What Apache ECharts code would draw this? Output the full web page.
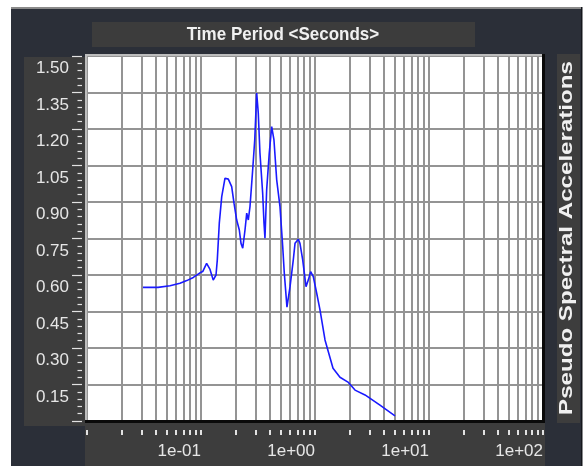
<!DOCTYPE html>
<html>
<head>
<meta charset="utf-8">
<script src="https://cdn.jsdelivr.net/npm/echarts@6/dist/echarts.min.js"></script>
<style>
  html, body { margin: 0; padding: 0; background: #ffffff; }
  #chart { width: 585px; height: 466px; }
</style>
</head>
<body>
<div id="chart"></div>
<script>
// Response spectrum: period (s) vs pseudo spectral acceleration
const periods = [
  0.031, 0.042, 0.0535, 0.0654, 0.075, 0.0856, 0.098, 0.1035, 0.112, 0.120,
  0.128, 0.1354, 0.139, 0.1447, 0.152, 0.1624, 0.1736, 0.1858, 0.1948, 0.2056,
  0.2168, 0.2244, 0.2323, 0.2432, 0.2518, 0.260, 0.269, 0.284, 0.296, 0.308,
  0.318, 0.329, 0.3475, 0.357, 0.364, 0.3767, 0.397, 0.417, 0.4365, 0.4613,
  0.493, 0.521, 0.538, 0.5675, 0.604, 0.645, 0.668, 0.714, 0.738, 0.780,
  0.834, 0.873, 0.916, 0.966, 1.035, 1.107, 1.224, 1.439, 1.656, 1.946,
  2.244, 2.746, 3.715, 5.03
];
const psa = [
  0.549, 0.549, 0.556, 0.566, 0.577, 0.590, 0.609, 0.614, 0.648, 0.623,
  0.579, 0.600, 0.662, 0.813, 0.922, 0.998, 0.994, 0.963, 0.895, 0.826,
  0.785, 0.730, 0.710, 0.785, 0.854, 0.826, 0.881, 1.032, 1.155, 1.348,
  1.265, 1.101, 0.936, 0.813, 0.751, 0.950, 1.101, 1.210, 1.155, 0.991,
  0.881, 0.716, 0.607, 0.468, 0.552, 0.662, 0.730, 0.747, 0.730, 0.662,
  0.552, 0.579, 0.614, 0.593, 0.525, 0.456, 0.333, 0.217, 0.180, 0.160,
  0.127, 0.107, 0.065, 0.021
];

// Log-axis grid/tick positions: 1..9 in every decade
const xGridValues = [
  0.01, 0.02, 0.03, 0.04, 0.05, 0.06, 0.07, 0.08, 0.09,
  0.1, 0.2, 0.3, 0.4, 0.5, 0.6, 0.7, 0.8, 0.9,
  1, 2, 3, 4, 5, 6, 7, 8, 9,
  10, 20, 30, 40, 50, 60, 70, 80, 90,
  100
];
const xLabelValues = [0.1, 1, 10, 100];
const xLabelTexts = ['1e-01', '1e+00', '1e+01', '1e+02'];
const xMin = 0.01, xMax = 100;
const yMin = 0, yMax = 1.5, yStep = 0.15;

const titleText = 'Time Period <Seconds>';
const sideText = 'Pseudo Spectral Accelerations';

const labelFont = "'Liberation Sans', Arial, sans-serif";
const textColor = '#e6e6e6';
const tickColor = '#e2e2e2';
const panel = '#3d3d3d';
const gridGray = '#949494';

// plot rectangle
const PL = 87, PT = 56, PW = 456, PH = 365;

const hiddenValueAxis = (gridIndex) => ({
  type: 'value', gridIndex: gridIndex, show: false, min: 0, max: 1,
  axisLine: { show: false }, axisTick: { show: false }, axisLabel: { show: false }, splitLine: { show: false }
});

const chart = echarts.init(document.getElementById('chart'), null, { renderer: 'canvas' });

chart.setOption({
  backgroundColor: '#ffffff',
  animation: false,
  grid: [
    // plot area
    { left: PL, top: PT, width: PW, height: PH, show: true, backgroundColor: '#ffffff', borderWidth: 0, containLabel: false, outerBoundsMode: 'none' },
    // period scale strip, just under the plot
    { left: PL, top: PT + PH + 8, width: PW, height: 1, show: false, containLabel: false, outerBoundsMode: 'none' },
    // acceleration scale strip, just left of the plot
    { left: PL - 5, top: PT, width: 1, height: PH, show: false, containLabel: false, outerBoundsMode: 'none' }
  ],
  xAxis: [
    {
      gridIndex: 0, type: 'log', logBase: 10, min: xMin, max: xMax,
      axisLine: { show: false },
      axisTick: { show: false, customValues: xGridValues },
      axisLabel: { show: false },
      splitLine: { show: true, lineStyle: { color: gridGray, width: 2 } },
      minorTick: { show: false }, minorSplitLine: { show: false }
    },
    {
      gridIndex: 1, type: 'log', logBase: 10, min: xMin, max: xMax, position: 'bottom',
      axisLine: { show: false },
      axisTick: { show: true, customValues: xGridValues, length: 5, inside: false, lineStyle: { color: tickColor, width: 2 } },
      axisLabel: {
        show: true, customValues: xLabelValues, margin: 13,
        align: 'right', color: textColor, fontFamily: labelFont, fontSize: 17,
        formatter: function (v) {
          const i = xLabelValues.findIndex(t => Math.abs(t - v) < t * 1e-6);
          return i >= 0 ? xLabelTexts[i] : '';
        }
      },
      splitLine: { show: false }, minorTick: { show: false }, minorSplitLine: { show: false }
    },
    hiddenValueAxis(2)
  ],
  yAxis: [
    {
      gridIndex: 0, type: 'value', min: yMin, max: yMax, interval: yStep,
      axisLine: { show: false }, axisTick: { show: false }, axisLabel: { show: false },
      splitLine: { show: true, lineStyle: { color: gridGray, width: 2 } },
      minorTick: { show: false }, minorSplitLine: { show: false }
    },
    hiddenValueAxis(1),
    {
      gridIndex: 2, type: 'value', min: yMin, max: yMax, interval: yStep, position: 'left',
      axisLine: { show: false },
      axisTick: { show: true, length: 10, inside: false, lineStyle: { color: tickColor, width: 1.2 } },
      minorTick: { show: true, splitNumber: 5, length: 4.5, lineStyle: { color: tickColor, width: 1.2 } },
      minorSplitLine: { show: false },
      axisLabel: {
        show: true, margin: 13, color: textColor, fontFamily: labelFont, fontSize: 17,
        verticalAlign: 'top', padding: [4, 0, 0, 0],
        formatter: function (v) { return v === 0 ? '' : v.toFixed(2); }
      },
      splitLine: { show: false }
    }
  ],
  series: [{
    type: 'line',
    xAxisIndex: 0, yAxisIndex: 0,
    data: periods.map((t, i) => [t, psa[i]]),
    showSymbol: false,
    symbol: 'none',
    clip: true,
    lineStyle: { color: '#1a1aff', width: 1.6 },
    z: 5
  }],
  graphic: [
    // window frame and panels
    { type: 'rect', z: -20, silent: true, shape: { x: 11, y: 7, width: 571, height: 459 }, style: { fill: '#2b2f38' } },
    { type: 'rect', z: -19, silent: true, shape: { x: 11, y: 7, width: 571, height: 2 }, style: { fill: '#8a8a8a' } },
    { type: 'rect', z: -19, silent: true, shape: { x: 581, y: 7, width: 1.5, height: 459 }, style: { fill: '#15171c' } },
    { type: 'rect', z: -18, silent: true, shape: { x: 92, y: 22, width: 383, height: 25 }, style: { fill: '#3c3c3c' } },
    { type: 'rect', z: -18, silent: true, shape: { x: 24, y: 57, width: 63, height: 369 }, style: { fill: panel } },
    { type: 'rect', z: -18, silent: true, shape: { x: 85, y: 421, width: 460, height: 45 }, style: { fill: panel } },
    { type: 'rect', z: -18, silent: true, shape: { x: 557, y: 54, width: 23, height: 369 }, style: { fill: panel } },
    // captions
    {
      type: 'text', z: 20, silent: true, x: 283, y: 34.5, scaleY: 1.08,
      style: { text: titleText, fill: '#f0f0f0', font: "bold 17px 'Liberation Sans', Arial, sans-serif", align: 'center', verticalAlign: 'middle' }
    },
    {
      type: 'text', z: 20, silent: true, x: 567, y: 238, rotation: Math.PI / 2, scaleX: 1.34,
      style: { text: sideText, fill: '#f0f0f0', font: "bold 18px 'Liberation Sans', Arial, sans-serif", align: 'center', verticalAlign: 'middle' }
    },
    // inset plot border: light top/left, dark bottom/right
    { type: 'rect', z: 30, silent: true, shape: { x: 85, y: 54, width: 459, height: 2 }, style: { fill: '#bdbdbd' } },
    { type: 'rect', z: 30, silent: true, shape: { x: 85, y: 54, width: 2, height: 367 }, style: { fill: '#bdbdbd' } },
    { type: 'rect', z: 30, silent: true, shape: { x: 85, y: 420, width: 460, height: 3 }, style: { fill: '#0a0a0a' } },
    { type: 'rect', z: 30, silent: true, shape: { x: 542, y: 54, width: 3, height: 369 }, style: { fill: '#0a0a0a' } }
  ]
});
</script>
</body>
</html>
